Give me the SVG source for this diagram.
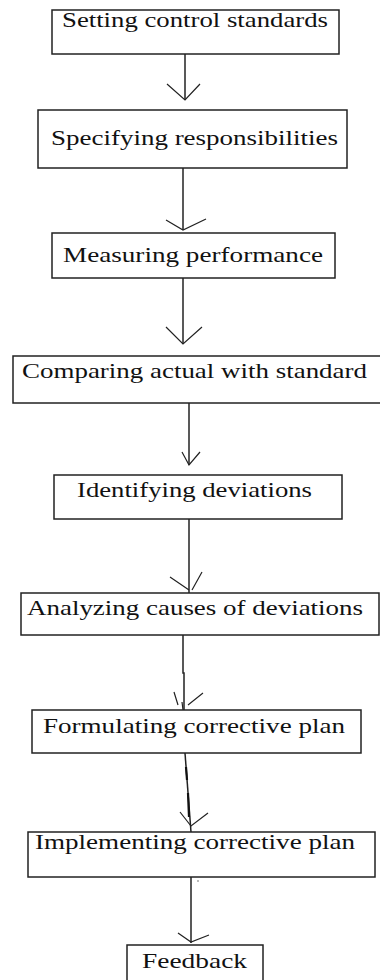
<svg xmlns="http://www.w3.org/2000/svg" width="380" height="980" viewBox="0 0 380 980">
<style>
.box{fill:#fff;stroke:#222;stroke-width:1.5}
.lbl{font-family:"Liberation Serif","Times New Roman",serif;font-size:22px;fill:#111}
.ln{fill:none;stroke:#222;stroke-width:1.5}
.hd{fill:none;stroke:#222;stroke-width:1.2}
</style>
<rect width="380" height="980" fill="#fff"/>
<g id="connectors">
<path class="ln" d="M185 54V100"/>
<path class="hd" d="M167 84L185 100L200 84"/>
<path class="ln" d="M183 168V230"/>
<path class="hd" d="M166 220L183 230L206 219"/>
<path class="ln" d="M183 278V344"/>
<path class="hd" d="M166 327L183 344L202 327"/>
<path class="ln" d="M189 403V465"/>
<path class="hd" d="M182 452L189 465L200 452"/>
<path class="ln" d="M189 519V593"/>
<path class="hd" d="M170 577L189 590M202 572L192 590"/>
<path class="ln" d="M183 635V673L184 673V710"/>
<path class="hd" d="M174 692L178 705M182 702L183 710M203 693L188 705"/>
<path class="ln" d="M185 753L191 832"/>
<path fill="none" stroke="#111" stroke-width="2.2" d="M186 767L187 780M188 793L189 817"/>
<path class="hd" d="M180 812L191 826L208 813"/>
<path class="ln" d="M191 877V943"/>
<path class="hd" d="M178 933L191 942L209 935"/>
<circle cx="198" cy="881" r="0.7" fill="#444"/>
</g>
<g id="n1"><rect class="box" x="52" y="10" width="287" height="44"/><text class="lbl" x="62" y="27" textLength="266" lengthAdjust="spacingAndGlyphs">Setting control standards</text></g>
<g id="n2"><rect class="box" x="38" y="110" width="309" height="58"/><text class="lbl" x="51" y="145" textLength="287" lengthAdjust="spacingAndGlyphs">Specifying responsibilities</text></g>
<g id="n3"><rect class="box" x="52" y="233" width="283" height="45"/><text class="lbl" x="63" y="262" textLength="260" lengthAdjust="spacingAndGlyphs">Measuring performance</text></g>
<g id="n4"><rect class="box" x="13" y="356" width="372" height="47"/><text class="lbl" x="22" y="378" textLength="345" lengthAdjust="spacingAndGlyphs">Comparing actual with standard</text></g>
<g id="n5"><rect class="box" x="54" y="475" width="288" height="44"/><text class="lbl" x="77" y="497" textLength="235" lengthAdjust="spacingAndGlyphs">Identifying deviations</text></g>
<g id="n6"><rect class="box" x="21" y="593" width="358" height="42"/><text class="lbl" x="27" y="615" textLength="336" lengthAdjust="spacingAndGlyphs">Analyzing causes of deviations</text></g>
<g id="n7"><rect class="box" x="32" y="710" width="329" height="43"/><text class="lbl" x="43" y="733" textLength="302" lengthAdjust="spacingAndGlyphs">Formulating corrective plan</text></g>
<g id="n8"><rect class="box" x="28" y="832" width="347" height="45"/><text class="lbl" x="35" y="849" textLength="320" lengthAdjust="spacingAndGlyphs">Implementing corrective plan</text></g>
<g id="n9"><rect class="box" x="127" y="945" width="136" height="45"/><text class="lbl" x="142" y="968" textLength="105" lengthAdjust="spacingAndGlyphs">Feedback</text></g>
</svg>
